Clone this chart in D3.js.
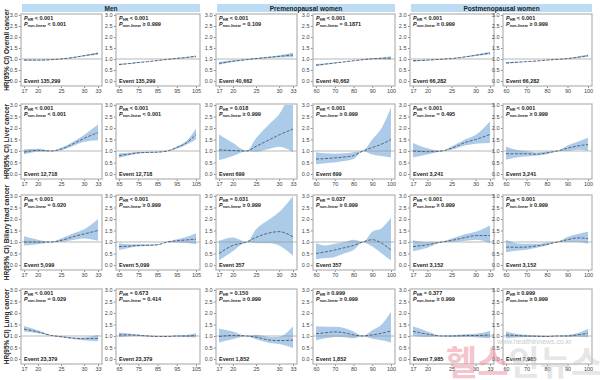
<!DOCTYPE html>
<html>
<head>
<meta charset="utf-8">
<script src="https://cdn.jsdelivr.net/npm/d3@7"></script>
<style>
  body { margin: 0; background: #fff; }
  svg { display: block; font-family: "Liberation Sans", Arial, sans-serif; }
</style>
</head>
<body>
<script>
const groups = ['Men', 'Premenopausal women', 'Postmenopausal women'];
const outcomes = ['Overall cancer', 'Liver cancer', 'Biliary tract cancer', 'Lung cancer'];

const bmiX = [17, 20, 23, 25, 28, 30, 33];
const wcMenX = [65, 70, 75, 80, 85, 90, 95, 100, 105];
const wcWomenX = [60, 65, 70, 75, 80, 85, 90, 95, 100];
const bmiTicks = [17, 20, 25, 30, 33];
const wcMenTicks = [65, 75, 85, 95, 105];
const wcWomenTicks = [60, 70, 80, 90, 100];
const yTicks = [0, 0.5, 1, 1.5, 2, 2.5, 3];

// panel order: men BMI, men WC, pre BMI, pre WC, post BMI, post WC
const overallHR = [
  [0.95, 0.95, 0.97, 1.0, 1.08, 1.15, 1.25],
  [0.75, 0.79, 0.84, 0.88, 0.93, 0.98, 1.03, 1.07, 1.12],
  [0.8, 0.9, 0.97, 1.02, 1.08, 1.12, 1.18],
  [0.72, 0.77, 0.82, 0.87, 0.92, 0.97, 1.01, 1.03, 1.05],
  [0.92, 0.95, 0.99, 1.02, 1.1, 1.17, 1.27],
  [0.82, 0.85, 0.88, 0.91, 0.95, 0.98, 1.02, 1.08, 1.15]
];
const overallLo = [
  [0.92, 0.93, 0.96, 0.99, 1.06, 1.12, 1.19],
  [0.72, 0.77, 0.82, 0.87, 0.92, 0.97, 1.01, 1.05, 1.08],
  [0.74, 0.86, 0.95, 1.0, 1.05, 1.07, 1.08],
  [0.67, 0.74, 0.8, 0.86, 0.91, 0.96, 0.99, 0.99, 0.97],
  [0.88, 0.93, 0.98, 1.01, 1.08, 1.14, 1.21],
  [0.78, 0.83, 0.87, 0.9, 0.94, 0.97, 1.01, 1.05, 1.1]
];
const overallHi = [
  [0.98, 0.97, 0.98, 1.01, 1.1, 1.18, 1.31],
  [0.78, 0.81, 0.86, 0.89, 0.94, 0.99, 1.05, 1.09, 1.16],
  [0.86, 0.94, 0.99, 1.04, 1.11, 1.17, 1.28],
  [0.77, 0.8, 0.84, 0.88, 0.93, 0.98, 1.03, 1.07, 1.13],
  [0.96, 0.97, 1.0, 1.03, 1.12, 1.2, 1.33],
  [0.86, 0.87, 0.89, 0.92, 0.96, 0.99, 1.03, 1.11, 1.2]
];

const liverHR = [
  [0.95, 1.03, 1.0, 1.08, 1.35, 1.55, 1.8],
  [0.8, 0.86, 0.92, 0.94, 0.95, 1.0, 1.15, 1.35, 1.72],
  [1.05, 1.02, 1.0, 1.2, 1.5, 1.7, 1.95],
  [0.65, 0.67, 0.7, 0.74, 0.8, 1.0, 1.15, 1.3, 1.5],
  [1.0, 0.97, 1.0, 1.12, 1.38, 1.5, 1.72],
  [0.88, 0.88, 0.88, 0.86, 0.92, 1.0, 1.12, 1.22, 1.28]
];
const liverLo = [
  [0.86, 0.97, 0.99, 1.03, 1.25, 1.4, 1.47],
  [0.7, 0.8, 0.88, 0.92, 0.94, 0.99, 1.1, 1.27, 1.5],
  [0.6, 0.78, 0.99, 0.97, 1.1, 1.18, 0.95],
  [0.42, 0.47, 0.5, 0.56, 0.65, 0.99, 0.85, 0.78, 0.72],
  [0.72, 0.85, 0.99, 1.05, 1.25, 1.32, 1.35],
  [0.62, 0.72, 0.76, 0.8, 0.86, 0.99, 1.0, 1.05, 1.0]
];
const liverHi = [
  [1.08, 1.1, 1.01, 1.14, 1.45, 1.7, 2.15],
  [0.9, 0.92, 0.96, 0.96, 0.97, 1.01, 1.2, 1.43, 1.98],
  [1.72, 1.35, 1.01, 1.55, 2.2, 2.6, 3.8],
  [0.95, 0.9, 0.88, 0.9, 0.95, 1.01, 1.5, 2.0, 2.9],
  [1.35, 1.12, 1.01, 1.2, 1.52, 1.7, 2.28],
  [1.2, 1.05, 1.0, 0.94, 0.98, 1.01, 1.24, 1.4, 1.58]
];

const biliaryHR = [
  [1.0, 1.0, 1.0, 1.07, 1.25, 1.35, 1.5],
  [0.8, 0.82, 0.85, 0.86, 0.88, 1.0, 1.05, 1.09, 1.12],
  [0.5, 0.85, 1.0, 1.2, 1.4, 1.45, 1.22],
  [0.5, 0.57, 0.65, 0.75, 0.85, 1.0, 1.1, 0.95, 0.65],
  [0.8, 0.88, 1.0, 1.07, 1.2, 1.28, 1.28],
  [0.78, 0.77, 0.78, 0.83, 0.9, 1.0, 1.1, 1.18, 1.15]
];
const biliaryLo = [
  [0.85, 0.9, 0.99, 1.0, 1.1, 1.15, 1.05],
  [0.65, 0.74, 0.8, 0.83, 0.86, 0.99, 0.98, 0.96, 0.9],
  [0.2, 0.6, 0.99, 0.95, 0.95, 0.85, 0.4],
  [0.25, 0.3, 0.35, 0.5, 0.65, 0.99, 0.8, 0.5, 0.2],
  [0.6, 0.75, 0.99, 1.0, 1.05, 1.1, 0.95],
  [0.55, 0.62, 0.66, 0.75, 0.85, 0.99, 1.0, 1.0, 0.92]
];
const biliaryHi = [
  [1.25, 1.1, 1.01, 1.15, 1.4, 1.55, 2.0],
  [0.95, 0.9, 0.9, 0.89, 0.9, 1.01, 1.12, 1.22, 1.38],
  [1.05, 1.2, 1.01, 1.55, 2.0, 2.3, 3.0],
  [0.95, 0.85, 0.92, 1.0, 1.1, 1.01, 1.45, 1.6, 2.05],
  [1.08, 1.0, 1.01, 1.15, 1.35, 1.45, 1.72],
  [1.1, 0.95, 0.92, 0.92, 0.97, 1.01, 1.22, 1.35, 1.45]
];

const lungHR = [
  [1.3, 1.18, 1.02, 0.97, 0.9, 0.88, 0.9],
  [1.05, 1.05, 1.03, 1.0, 0.98, 0.98, 1.0, 1.0, 1.02],
  [0.98, 1.02, 1.0, 0.95, 0.82, 0.8, 0.82],
  [1.1, 1.14, 1.18, 1.14, 1.05, 1.0, 1.05, 1.12, 1.22],
  [1.2, 1.08, 1.0, 1.0, 1.02, 1.02, 1.05],
  [1.05, 1.02, 1.0, 0.99, 0.98, 1.0, 1.0, 1.05, 1.12]
];
const lungLo = [
  [1.2, 1.12, 1.01, 0.95, 0.86, 0.82, 0.77],
  [0.95, 0.99, 1.0, 0.98, 0.97, 0.97, 0.98, 0.96, 0.93],
  [0.72, 0.86, 0.99, 0.86, 0.7, 0.65, 0.48],
  [0.82, 0.9, 0.96, 0.95, 0.9, 0.99, 0.88, 0.82, 0.72],
  [1.0, 0.96, 0.99, 0.97, 0.96, 0.95, 0.9],
  [0.9, 0.94, 0.96, 0.96, 0.96, 0.99, 0.97, 0.97, 0.95]
];
const lungHi = [
  [1.43, 1.25, 1.03, 0.99, 0.94, 0.94, 1.05],
  [1.15, 1.11, 1.06, 1.02, 0.99, 0.99, 1.02, 1.04, 1.12],
  [1.32, 1.2, 1.01, 1.05, 0.96, 0.97, 1.42],
  [1.42, 1.4, 1.4, 1.35, 1.2, 1.01, 1.25, 1.5, 2.05],
  [1.42, 1.2, 1.01, 1.03, 1.08, 1.1, 1.22],
  [1.2, 1.1, 1.05, 1.02, 1.0, 1.01, 1.04, 1.13, 1.32]
];

const pTrend = [
  ['< 0.001', '< 0.001', '< 0.001', '< 0.001', '< 0.001', '< 0.001'],
  ['< 0.001', '< 0.001', '= 0.018', '< 0.001', '< 0.001', '< 0.001'],
  ['< 0.001', '< 0.001', '= 0.031', '= 0.037', '< 0.001', '< 0.001'],
  ['< 0.001', '= 0.673', '= 0.150', '\u2265 0.999', '= 0.377', '\u2265 0.999']
];
const pNonlinear = [
  ['< 0.001', '\u2265 0.999', '= 0.109', '= 0.1871', '\u2265 0.999', '\u2265 0.999'],
  ['< 0.001', '< 0.001', '\u2265 0.999', '\u2265 0.999', '= 0.495', '\u2265 0.999'],
  ['= 0.020', '\u2265 0.999', '\u2265 0.999', '\u2265 0.999', '\u2265 0.999', '\u2265 0.999'],
  ['= 0.029', '= 0.414', '\u2265 0.999', '\u2265 0.999', '\u2265 0.999', '\u2265 0.999']
];
const events = [
  ['135,299', '135,299', '40,662', '40,662', '66,282', '66,282'],
  ['12,718', '12,718', '699', '699', '3,241', '3,241'],
  ['5,099', '5,099', '357', '357', '3,152', '3,152'],
  ['23,379', '23,379', '1,852', '1,852', '7,985', '7,985']
];

const hrRows = [overallHR, liverHR, biliaryHR, lungHR];
const loRows = [overallLo, liverLo, biliaryLo, lungLo];
const hiRows = [overallHi, liverHi, biliaryHi, lungHi];

// layout
const colLeft = [21, 116, 216, 313, 410, 503];
const colRight = [102, 200, 297, 395, 494, 592];
const rowY3 = [15, 105, 196, 290];   // pixel of HR = 3.0
const rowY0 = [81, 174, 265, 359];   // pixel of HR = 0.0

const svg = d3.select('body').append('svg')
  .attr('width', 600)
  .attr('height', 380);

// column group headers
groups.forEach((name, i) => {
  const x0 = colLeft[i * 2] + 1, x1 = colRight[i * 2 + 1];
  svg.append('rect')
    .attr('x', x0).attr('y', 4)
    .attr('width', x1 - x0).attr('height', 8)
    .attr('fill', '#bcdcf4');
  svg.append('text')
    .attr('x', (x0 + x1) / 2).attr('y', 10.5)
    .attr('text-anchor', 'middle')
    .style('font-size', '6.5px').style('font-weight', 'bold')
    .attr('fill', '#222')
    .text(name);
});

const defs = svg.append('defs');

for (let r = 0; r < 4; r++) {
  const y = d3.scaleLinear().domain([0, 3]).range([rowY0[r], rowY3[r]]);
  const top = rowY3[r] - 1, bottom = rowY0[r] + 5;

  // row label
  svg.append('text')
    .attr('transform', `translate(9,${(top + bottom) / 2}) rotate(-90)`)
    .attr('text-anchor', 'middle')
    .style('font-size', '6.5px').style('font-weight', 'bold')
    .attr('fill', '#222')
    .text('HR(95% CI) ' + outcomes[r]);

  for (let c = 0; c < 6; c++) {
    const left = colLeft[c], right = colRight[c];
    const xs = c % 2 === 0 ? bmiX : (c < 2 ? wcMenX : wcWomenX);
    const ticks = c % 2 === 0 ? bmiTicks : (c < 2 ? wcMenTicks : wcWomenTicks);
    const x = d3.scaleLinear().domain(d3.extent(xs)).range([left + 3, right - 4]);

    const hr = hrRows[r][c], lo = loRows[r][c], hi = hiRows[r][c];
    const pts = xs.map((v, i) => ({ x: v, hr: hr[i], lo: lo[i], hi: hi[i] }));

    const g = svg.append('g');
    const clipId = `clip-${r}-${c}`;
    defs.append('clipPath').attr('id', clipId)
      .append('rect')
      .attr('x', left).attr('y', y(3))
      .attr('width', right - left).attr('height', bottom - y(3));

    // y axis
    g.append('g')
      .attr('transform', `translate(${left},0)`)
      .call(d3.axisLeft(y).tickValues(yTicks).tickFormat(d3.format('.1f')).tickSize(2).tickPadding(1.5))
      .call(a => a.select('.domain').remove())
      .call(a => a.selectAll('line').attr('stroke', '#888'))
      .call(a => a.selectAll('text').style('font-size', '5.5px').attr('fill', '#444').style('font-family', 'Liberation Sans, Arial, sans-serif'));

    // x axis
    g.append('g')
      .attr('transform', `translate(0,${bottom})`)
      .call(d3.axisBottom(x).tickValues(ticks).tickSize(2).tickPadding(1.5))
      .call(a => a.select('.domain').remove())
      .call(a => a.selectAll('line').attr('stroke', '#888'))
      .call(a => a.selectAll('text').style('font-size', '5.5px').attr('fill', '#444').style('font-family', 'Liberation Sans, Arial, sans-serif'));

    const plot = g.append('g').attr('clip-path', `url(#${clipId})`);

    plot.append('path')
      .datum(pts)
      .attr('fill', '#abcbe9')
      .attr('d', d3.area()
        .x(d => x(d.x))
        .y0(d => y(d.lo))
        .y1(d => y(d.hi))
        .curve(d3.curveMonotoneX));

    plot.append('line')
      .attr('x1', left).attr('x2', right)
      .attr('y1', y(1)).attr('y2', y(1))
      .attr('stroke', '#999').attr('stroke-width', 0.7);

    plot.append('path')
      .datum(pts)
      .attr('fill', 'none')
      .attr('stroke', '#3d4a5a')
      .attr('stroke-width', 0.8)
      .attr('stroke-dasharray', '3,1.5')
      .attr('d', d3.line()
        .x(d => x(d.x))
        .y(d => y(d.hr))
        .curve(d3.curveMonotoneX));

    // panel frame
    g.append('rect')
      .attr('x', left).attr('y', top)
      .attr('width', right - left).attr('height', bottom - top)
      .attr('fill', 'none')
      .attr('stroke', '#b8b8b8')
      .attr('stroke-width', 1.3);

    // p-values
    const t1 = g.append('text')
      .attr('x', left + 3).attr('y', top + 6)
      .style('font-size', '5.5px').style('font-weight', 'bold').attr('fill', '#222');
    t1.append('tspan').style('font-style', 'italic').text('P');
    t1.append('tspan').attr('dy', 1.3).style('font-size', '3.8px').text('HR');
    t1.append('tspan').attr('dy', -1.3).text(' ' + pTrend[r][c]);

    const t2 = g.append('text')
      .attr('x', left + 3).attr('y', top + 12)
      .style('font-size', '5.5px').style('font-weight', 'bold').attr('fill', '#222');
    t2.append('tspan').style('font-style', 'italic').text('P');
    t2.append('tspan').attr('dy', 1.3).style('font-size', '3.8px').text('non-linear');
    t2.append('tspan').attr('dy', -1.3).text(' ' + pNonlinear[r][c]);

    g.append('text')
      .attr('x', left + 3).attr('y', bottom - 3)
      .style('font-size', '5.5px').style('font-weight', 'bold').attr('fill', '#222')
      .text('Event ' + events[r][c]);
  }
}

// watermark
svg.append('text')
  .attr('x', 497).attr('y', 344)
  .style('font-size', '7px').attr('fill', '#ccc')
  .text('www.healthinnews.co.kr');
const wm = svg.append('text')
  .attr('x', 446).attr('y', 375)
  .style('font-family', '"Noto Sans CJK KR", sans-serif')
  .style('font-size', '34px').style('font-weight', 'bold')
  .attr('opacity', 0.5);
wm.append('tspan').attr('fill', '#ec8a9c').text('헬스');
wm.append('tspan').attr('fill', '#cfcfcf').text('인뉴스');
</script>
</body>
</html>
